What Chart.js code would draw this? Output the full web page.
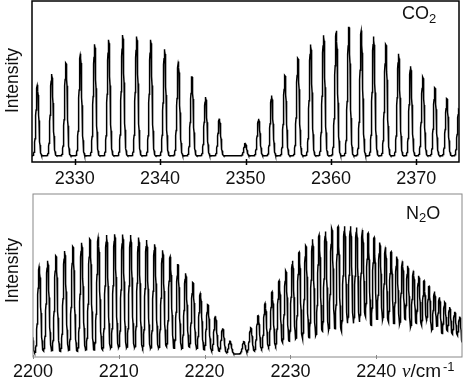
<!DOCTYPE html>
<html>
<head>
<meta charset="utf-8">
<script src="https://cdn.jsdelivr.net/npm/chart.js@4.4.1/dist/chart.umd.min.js"></script>
<style>
  html, body { margin: 0; padding: 0; background: #fff; }
  #wrap { position: relative; width: 463px; height: 383px; }
  .panel { position: absolute; left: 0; width: 463px; }
  #top { top: 0; height: 190px; }
  #bottom { top: 190px; height: 193px; }
</style>
</head>
<body>
<div id="wrap">
  <div class="panel" id="top"><canvas id="co2"></canvas></div>
  <div class="panel" id="bottom"><canvas id="n2o"></canvas></div>
</div>
<script>
// CO2 band (upper panel): line centres in cm-1 and peak heights
const co2Lines = [2325.63, 2327.31, 2328.98, 2330.67, 2332.34, 2333.98, 2335.62, 2337.26, 2338.90, 2340.53,
  2342.14, 2343.73, 2345.33, 2346.94,
  2349.98, 2351.54, 2353.06, 2354.62, 2356.14, 2357.63, 2359.15, 2360.63, 2362.11, 2363.56,
  2365.00, 2366.44, 2367.93, 2369.33, 2370.77, 2372.18, 2373.58, 2374.98];
const co2Heights = [0.46, 0.53, 0.60, 0.66, 0.72, 0.75, 0.78, 0.77, 0.75, 0.69,
  0.61, 0.51, 0.38, 0.24,
  0.08, 0.24, 0.39, 0.52, 0.63, 0.72, 0.78, 0.81, 0.83, 0.81,
  0.77, 0.72, 0.66, 0.58, 0.51, 0.44, 0.37, 0.30];
const co2Ticks = [2330, 2340, 2350, 2360, 2370];

// N2O band (lower panel)
const n2oLines = [2199.67, 2200.73, 2201.71, 2202.68, 2203.69, 2204.66, 2205.67, 2206.64, 2207.61, 2208.58,
  2209.52, 2210.45, 2211.38, 2212.31, 2213.24, 2214.18, 2215.11, 2215.99, 2216.89, 2217.79,
  2218.64, 2219.51, 2220.38, 2221.26, 2222.11, 2222.97,
  2224.58, 2225.39, 2226.24, 2227.06, 2227.87, 2228.69, 2229.47, 2230.25, 2231.02, 2231.80,
  2232.58, 2233.35, 2234.09, 2234.83, 2235.56, 2236.31, 2237.01, 2237.71, 2238.40, 2239.06,
  2239.76, 2240.42, 2241.08, 2241.74, 2242.40, 2243.06, 2243.68, 2244.34, 2244.96, 2245.58,
  2246.16, 2246.79, 2247.37, 2247.99, 2248.57, 2249.16, 2249.74];
const n2oHeights = [0.55, 0.55, 0.583, 0.614, 0.645, 0.672, 0.697, 0.719, 0.734, 0.744,
  0.748, 0.748, 0.744, 0.730, 0.713, 0.686, 0.650, 0.608, 0.559, 0.506,
  0.447, 0.381, 0.308, 0.236, 0.161, 0.079,
  0.077, 0.164, 0.239, 0.317, 0.389, 0.458, 0.521, 0.583, 0.636, 0.677,
  0.717, 0.744, 0.767, 0.786, 0.796, 0.800, 0.800, 0.792, 0.775, 0.754,
  0.727, 0.696, 0.667, 0.638, 0.608, 0.579, 0.550, 0.519, 0.488, 0.456,
  0.421, 0.389, 0.354, 0.323, 0.292, 0.263, 0.233];
const n2oTicks = [2200, 2210, 2220, 2230, 2240];

const co2Sigma = 0.16;
const n2oSigma = 0.17;

const FONT = '"Liberation Sans", Arial, sans-serif';

// sum of gaussian line profiles, sampled finely
function spectrum(lines, heights, sigma, from, to) {
  const step = 0.02;
  const pts = [];
  const n = Math.round((to - from) / step);
  for (let i = 0; i <= n; i++) {
    const x = from + i * step;
    let y = 0;
    lines.forEach((c, k) => {
      const d = x - c;
      if (Math.abs(d) < 6 * sigma) y += heights[k] * Math.exp(-d * d / (2 * sigma * sigma));
    });
    pts.push({ x: x, y: y });
  }
  return pts;
}

function drawFormula(ctx, parts, x, y) {
  parts.forEach(p => {
    ctx.font = p.size + 'px ' + FONT;
    ctx.fillText(p.text, x, y + p.dy);
    x += ctx.measureText(p.text).width;
  });
}

const framePlugin = {
  id: 'frame',
  afterDraw(chart, args, o) {
    const { ctx, chartArea: a } = chart;
    const xs = chart.scales.x;
    ctx.save();
    ctx.strokeStyle = o.color;
    ctx.lineWidth = o.width;
    ctx.strokeRect(a.left, a.top, a.right - a.left, a.bottom - a.top);
    o.ticks.forEach(v => {
      const px = Math.round(xs.getPixelForValue(v)) + 0.5;
      ctx.beginPath();
      ctx.moveTo(px, a.bottom - o.tickIn);
      ctx.lineTo(px, a.bottom + o.tickOut);
      ctx.stroke();
    });
    ctx.fillStyle = '#111';
    ctx.textBaseline = 'alphabetic';
    ctx.textAlign = 'left';
    drawFormula(ctx, o.formula, o.formulaX, o.formulaY);
    if (o.unit) {
      ctx.font = 'italic 19px "Liberation Serif", serif';
      ctx.fillText('\u03BD', o.unit.x, o.unit.y);
      let ux = o.unit.x + ctx.measureText('\u03BD').width;
      ctx.font = '19px ' + FONT;
      ctx.fillText('/cm', ux, o.unit.y);
      ux += ctx.measureText('/cm').width + 2;
      ctx.font = '13px ' + FONT;
      ctx.fillText('-1', ux, o.unit.y - 6);
    }
    ctx.translate(o.titleX, (a.top + a.bottom) / 2 + o.titleDy);
    ctx.rotate(-Math.PI / 2);
    ctx.font = '17.5px ' + FONT;
    ctx.textAlign = 'center';
    ctx.textBaseline = 'middle';
    ctx.fillText('Intensity', 0, 0);
    ctx.restore();
  }
};

function makeChart(id, cfg) {
  return new Chart(document.getElementById(id), {
    type: 'line',
    data: {
      datasets: [{
        data: spectrum(cfg.lines, cfg.heights, cfg.sigma, cfg.min - 1, cfg.max + 1),
        borderColor: '#000',
        borderWidth: 1.5,
        pointRadius: 0,
        tension: 0,
        fill: false
      }]
    },
    options: {
      responsive: true,
      maintainAspectRatio: false,
      animation: false,
      parsing: false,
      normalized: true,
      layout: { padding: cfg.padding },
      plugins: {
        legend: { display: false },
        tooltip: { enabled: false },
        frame: cfg.frame
      },
      scales: {
        x: {
          type: 'linear',
          min: cfg.min,
          max: cfg.max,
          grid: { display: false, drawTicks: false },
          border: { display: false },
          afterBuildTicks: s => { s.ticks = cfg.ticks.map(v => ({ value: v })); },
          afterFit: s => { s.height = cfg.axisHeight; },
          ticks: {
            color: '#111',
            padding: cfg.tickPad,
            maxRotation: 0,
            font: { family: FONT, size: 18 },
            callback: v => String(v)
          }
        },
        y: {
          display: false,
          min: cfg.ymin,
          max: 1.0
        }
      }
    },
    plugins: [framePlugin]
  });
}

makeChart('co2', {
  lines: co2Lines, heights: co2Heights, sigma: co2Sigma, ticks: co2Ticks,
  min: 2325, max: 2375, ymin: -0.04,
  padding: { top: 1, left: 32, right: 4, bottom: 0 },
  axisHeight: 28, tickPad: 6,
  frame: {
    color: '#000', width: 1.5, ticks: co2Ticks, tickIn: 3, tickOut: 3,
    titleX: 13, titleDy: -1,
    formula: [{ text: 'CO', size: 18, dy: 0 }, { text: '2', size: 13, dy: 4 }],
    formulaX: 402, formulaY: 19
  }
});

makeChart('n2o', {
  lines: n2oLines, heights: n2oHeights, sigma: n2oSigma, ticks: n2oTicks,
  min: 2200, max: 2250, ymin: -0.019,
  padding: { top: 4, left: 33, right: 1, bottom: 2 },
  axisHeight: 24, tickPad: 4,
  frame: {
    color: '#888', width: 1, ticks: n2oTicks, tickIn: 2, tickOut: 2,
    titleX: 13, titleDy: -5,
    formula: [{ text: 'N', size: 18, dy: 0 }, { text: '2', size: 13, dy: 3 }, { text: 'O', size: 18, dy: 0 }],
    formulaX: 406, formulaY: 29,
    unit: { x: 402, y: 187 }
  }
});
</script>
</body>
</html>
